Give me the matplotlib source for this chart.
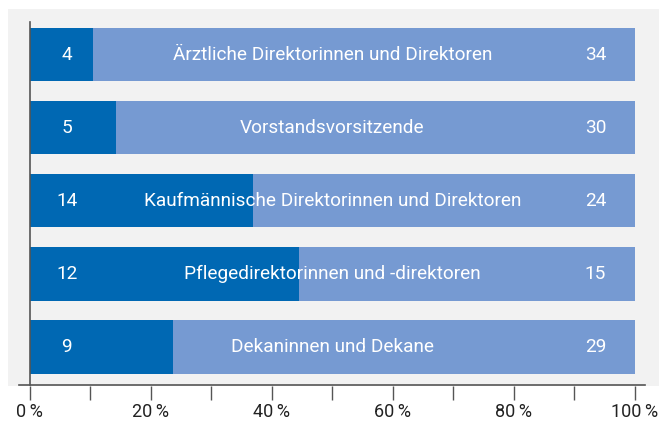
import matplotlib.pyplot as plt
import numpy as np

plt.rcParams['font.family'] = ['Roboto', 'DejaVu Sans']

# data (top to bottom)
categories = ["Ärztliche Direktorinnen und Direktoren",
              "Vorstandsvorsitzende",
              "Kaufmännische Direktorinnen und Direktoren",
              "Pflegedirektorinnen und -direktoren",
              "Dekaninnen und Dekane"]
women = [4, 5, 14, 12, 9]
men = [34, 30, 24, 15, 29]
tick_vals = [0, 20, 40, 60, 80, 100]
tick_labels = ["0\u202f%", "20\u202f%", "40\u202f%", "60\u202f%", "80\u202f%", "100\u202f%"]

dark = "#0068b3"
light = "#769ad2"
W, H = 659, 421

women = np.array(women, dtype=float)
men = np.array(men, dtype=float)
total = women + men
w_pct = women / total * 100
m_pct = men / total * 100
y = np.arange(len(categories))

fig = plt.figure(figsize=(W / 100, H / 100), dpi=100)
ax = fig.add_axes([8 / W, 1 - 386 / H, 651 / W, 377 / H])
ax.set_facecolor("#f2f2f2")

ax.barh(y, w_pct, height=0.73, color=dark)
ax.barh(y, m_pct, left=w_pct, height=0.73, color=light)

fs = 13.7
for i in range(len(categories)):
    ax.text(6.1, y[i], f"{int(women[i])}", color="white", fontsize=fs,
            ha="center", va="center")
    ax.text(93.5, y[i], f"{int(men[i])}", color="white", fontsize=fs,
            ha="center", va="center")
    ax.text(50, y[i], categories[i], color="white", fontsize=fs,
            ha="center", va="center")

ax.set_xlim(-3.6, 104)
ax.set_ylim(4.534, -0.623)

for s in ax.spines.values():
    s.set_visible(False)

# axis lines
ax.axhline(4.534 - 0.015, xmin=11 / 651, xmax=637 / 651, color="#555555",
           lw=1.2, clip_on=False)
ax.axvline(0, ymin=1 / 377, ymax=364 / 377, color="#555555", lw=1.2)

ax.set_yticks([])
ax.set_xticks(tick_vals)
ax.set_xticklabels(tick_labels, fontsize=13, color="#222222")
ax.set_xticks(np.arange(10, 100, 20), minor=True)
ax.tick_params(axis="x", which="both", length=10, width=1, color="#555555",
               pad=2.5)

fig.savefig("out.png", dpi=100)
